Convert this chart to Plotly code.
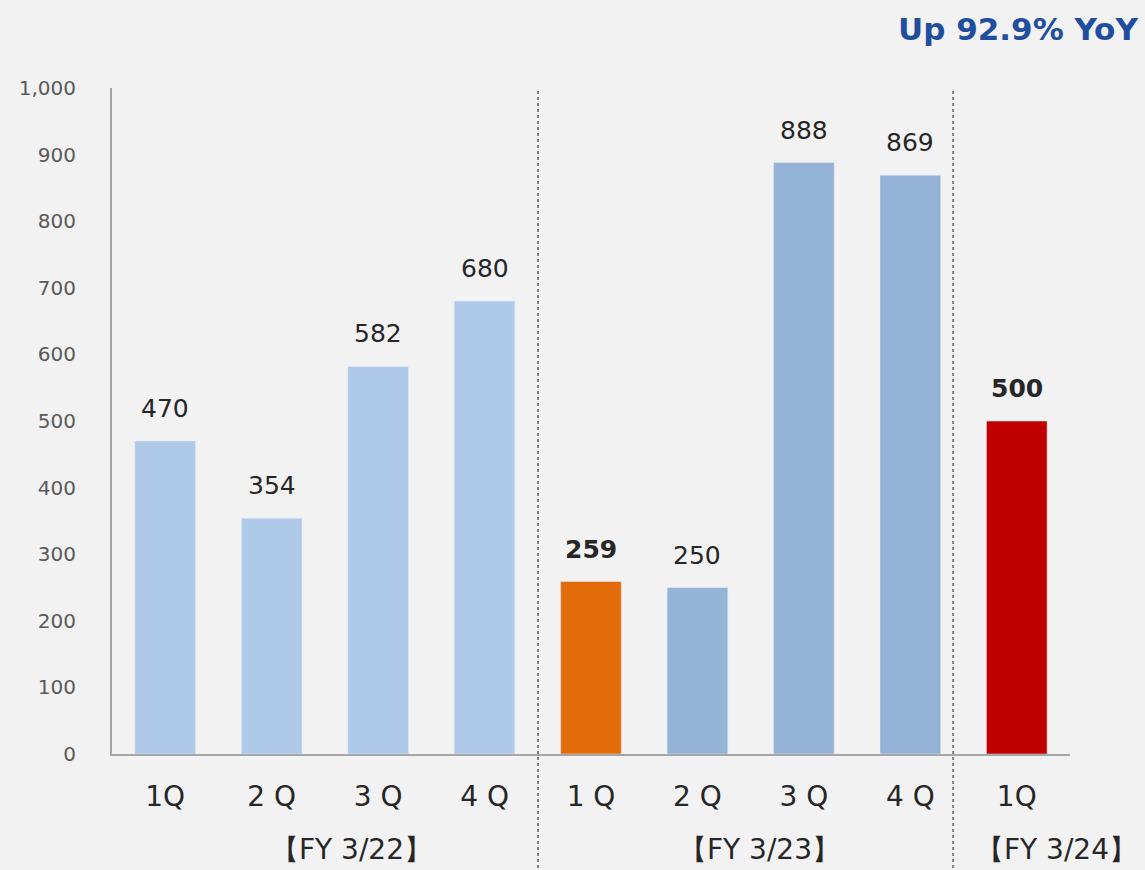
import plotly.graph_objects as go

quarters = ["1Q", "2 Q", "3 Q", "4 Q", "1 Q", "2 Q", "3 Q", "4 Q", "1Q"]
values = [470, 354, 582, 680, 259, 250, 888, 869, 500]
colors = ["#afc9e8"] * 4 + ["#e36c0a", "#95b3d7", "#95b3d7", "#95b3d7", "#c00000"]
bold = [False] * 4 + [True, False, False, False, True]
fy_labels = ["【FY 3/22】", "【FY 3/23】", "【FY 3/24】"]
fy_pos = [0.25, 0.676, 0.986]
y_ticks = list(range(0, 1001, 100))

FONT = "DejaVu Sans"
xs = list(range(len(values)))

fig = go.Figure()
fig.add_trace(go.Bar(
    x=xs, y=values, marker_color=colors, width=0.57,
    hoverinfo="skip", showlegend=False,
))

for x, v, b in zip(xs, values, bold):
    fig.add_annotation(
        x=x, y=v, yanchor="bottom", yshift=16, showarrow=False,
        text=f"<b>{v}</b>" if b else str(v),
        font=dict(family=FONT, size=25, color="#262626"),
    )

for lab, px in zip(fy_labels, fy_pos):
    fig.add_annotation(
        xref="paper", yref="paper", x=px, y=-0.144,
        xanchor="center", yanchor="middle",
        showarrow=False, text=lab,
        font=dict(family=FONT, size=28, color="#262626"),
    )

for px in [0.4447, 0.878]:
    fig.add_shape(type="line", xref="paper", yref="paper",
                  x0=px, x1=px, y0=-0.18, y1=1.0,
                  line=dict(color="#808080", width=2, dash="dot"))

fig.add_annotation(
    xref="paper", yref="paper", x=1.073, y=1.088, xanchor="right", yanchor="middle",
    showarrow=False, text="<b>Up 92.9% YoY</b>",
    font=dict(family=FONT, size=31, color="#1f4e9f"),
)

fig.update_layout(
    width=1145, height=870,
    margin=dict(l=112, r=75, t=88, b=116),
    paper_bgcolor="#f2f2f2", plot_bgcolor="#f2f2f2",
    xaxis=dict(
        range=[-0.5, 8.5], tickmode="array", tickvals=xs, ticktext=quarters,
        showgrid=False, zeroline=False, showline=True, linecolor="#a6a6a6",
        linewidth=2, ticks="", tickfont=dict(family=FONT, size=28, color="#262626"),
        ticklabelstandoff=16,
    ),
    yaxis=dict(
        range=[0, 1000], tickmode="array", tickvals=y_ticks,
        ticktext=[f"{t:,}" for t in y_ticks],
        showgrid=False, zeroline=False, showline=True, linecolor="#a6a6a6",
        linewidth=2, ticks="", ticklabelstandoff=30,
        tickfont=dict(family=FONT, size=20, color="#595959"),
    ),
)

fig.write_html(
    "out.html",
    config={"displayModeBar": False},
    post_script="document.body.style.margin='0';document.body.style.background='#f2f2f2';",
)
